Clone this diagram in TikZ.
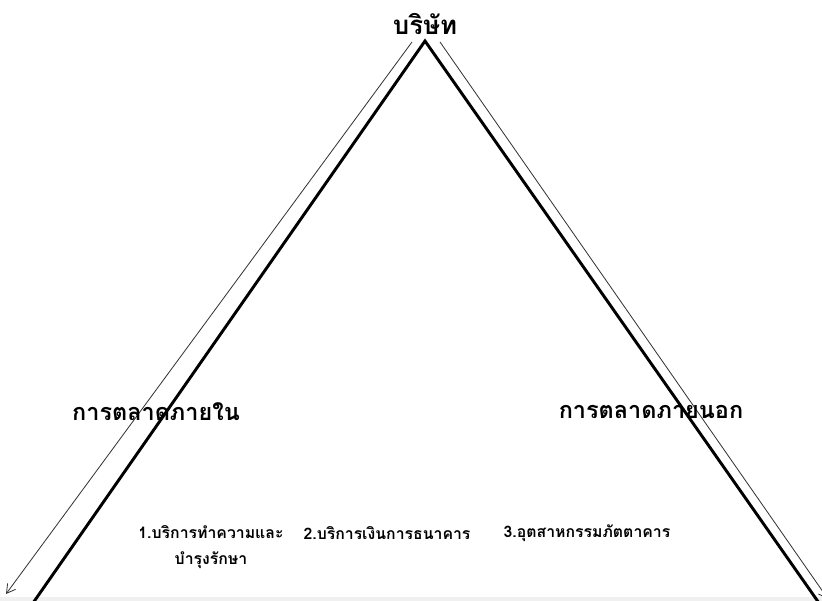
\documentclass[tikz,border=0pt]{standalone}
\usepackage{fontspec}
\newfontfamily\thaifont[Script=Thai]{Loma}
\usepackage{tikz}
\usetikzlibrary{arrows.meta}

\begin{document}
\begin{tikzpicture}[x=0.03cm, y=-0.03cm,
  every node/.style={font=\thaifont\bfseries, inner sep=0pt},
  titletext/.style={font=\thaifont\bfseries\fontsize{22}{26}\selectfont},
  sidetext/.style={font=\thaifont\bfseries\fontsize{20}{24}\selectfont},
  itemtext/.style={font=\thaifont\bfseries\fontsize{13.5}{22}\selectfont, align=center}]
\useasboundingbox (0,0) rectangle (822,601);
\fill[gray!12] (0,597) rectangle (822,601);

% company
\node[titletext] (company) at (425,24) {บริษัท};

% roof
\coordinate (apex) at (425,41);
\coordinate (lfoot) at (33,603);
\coordinate (rfoot) at (819,603);
\draw[line width=2.5pt] (lfoot) -- (apex) -- (rfoot);

% thin arrows
\coordinate (ltop) at (412,42);
\coordinate (lend) at (6,594);
\coordinate (rtop) at (440,42);
\coordinate (rend) at (828,599);
\draw[-{Straight Barb[length=2.6mm, width=3mm]}, line width=0.7pt, black!80] (ltop) -- (lend);
\draw[-{Straight Barb[length=2.6mm, width=3mm]}, line width=0.7pt, black!80] (rtop) -- (rend);

% markets
\node[sidetext] (inner) at (156,412) {การตลาดภายใน};
\node[sidetext] (outer) at (651,412) {การตลาดภายนอก};

% services
\node[itemtext] (svc1) at (211,547) {1.บริการทำความและ\\บำรุงรักษา};
\node[itemtext] (svc2) at (387,533) {2.บริการเงินการธนาคาร};
\node[itemtext] (svc3) at (587,533) {3.อุตสาหกรรมภัตตาคาร};
\end{tikzpicture}
\end{document}
